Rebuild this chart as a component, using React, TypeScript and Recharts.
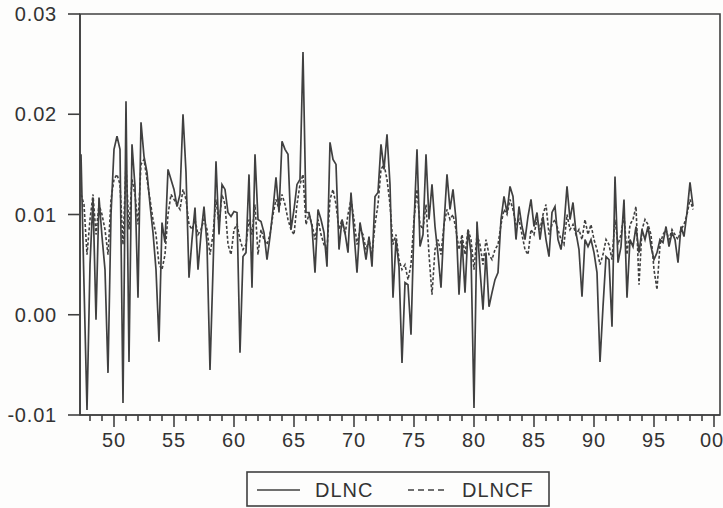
import React from "react";
import { LineChart, Line, XAxis, YAxis, ReferenceArea } from "recharts";

// quarterly, 1947Q2 .. 1998Q2
const START_YEAR = 47.25;

const DLNC = [
  0.016, 0.003, -0.0095, 0.005, 0.0117, -0.0005, 0.0117, 0.0078, 0.0045, -0.0058,
  0.01, 0.0165, 0.0178, 0.0165, -0.0088, 0.0213, -0.0047, 0.017, 0.0128, 0.0017,
  0.0192, 0.0158, 0.0142, 0.011, 0.0082, 0.0045, -0.0027, 0.0092, 0.0072, 0.0145,
  0.0135, 0.0125, 0.0108, 0.012, 0.02, 0.0142, 0.0037, 0.0075, 0.0107, 0.0045,
  0.008, 0.0108, 0.007, -0.0055, 0.0045, 0.0153, 0.008, 0.013, 0.0125, 0.0102,
  0.0098, 0.0103, 0.0102, -0.0038, 0.0058, 0.0062, 0.014, 0.0027, 0.016, 0.0095,
  0.0093, 0.0082, 0.0055, 0.0078, 0.0105, 0.0137, 0.0102, 0.0173, 0.0165, 0.016,
  0.0085, 0.0105, 0.013, 0.0135, 0.0262, 0.0102, 0.0102, 0.0088, 0.0042, 0.0105,
  0.0095, 0.0082, 0.0048, 0.0172, 0.0155, 0.015, 0.0065, 0.0095, 0.0082, 0.0062,
  0.0122, 0.0082, 0.0042, 0.0092, 0.0075, 0.0055, 0.0078, 0.0048, 0.0118, 0.0122,
  0.017, 0.0145, 0.018, 0.013, 0.0017, 0.0075, 0.0048, -0.0048, 0.0032, 0.003,
  -0.002, 0.009, 0.0165, 0.0068, 0.008, 0.016, 0.0095, 0.013, 0.0088, 0.006,
  0.0027, 0.009, 0.014, 0.0105, 0.0125, 0.0095, 0.002, 0.0075, 0.0022, 0.0085,
  0.0062, -0.0093, 0.0093, 0.0045, 0.0005, 0.0062, 0.0008, 0.0022, 0.0035, 0.0042,
  0.0095, 0.0118, 0.0102, 0.0128, 0.0118, 0.0075, 0.0108, 0.0088, 0.0075, 0.0098,
  0.0115, 0.0088, 0.0102, 0.0075, 0.0098, 0.0075, 0.0058, 0.0102, 0.0108, 0.0075,
  0.0065, 0.0088, 0.0128, 0.0095, 0.0112, 0.0082, 0.0065, 0.0018, 0.0075, 0.0068,
  0.0075, 0.0062, 0.0042, -0.0047, 0.0008, 0.0058, 0.0055, -0.0012, 0.0138, 0.0052,
  0.0068, 0.0115, 0.0017, 0.0075, 0.0068, 0.0088, 0.0062, 0.0085, 0.0075, 0.0088,
  0.0068, 0.0055, 0.0062, 0.0075, 0.0072, 0.0088, 0.0068, 0.0082, 0.0075, 0.0052,
  0.0088, 0.0078, 0.0102, 0.0132, 0.0108,
];

const DLNCF = [
  0.012, 0.011, 0.006, 0.0095, 0.012, 0.008, 0.011, 0.01, 0.0085, 0.006,
  0.0115, 0.0135, 0.014, 0.013, 0.007, 0.015, 0.0085, 0.0135, 0.012, 0.009,
  0.015, 0.0155, 0.0135, 0.0115, 0.0095, 0.008, 0.005, 0.0045, 0.006, 0.01,
  0.012, 0.0115, 0.011, 0.0105, 0.0125, 0.0115, 0.009, 0.0085, 0.0095, 0.008,
  0.0085, 0.0095, 0.0085, 0.006, 0.008, 0.0115, 0.009, 0.012, 0.011, 0.007,
  0.006, 0.0085, 0.009, 0.0075, 0.0065, 0.007, 0.0095, 0.008, 0.011, 0.006,
  0.0085, 0.0075, 0.007, 0.008, 0.01, 0.0115, 0.0105, 0.012, 0.011, 0.0095,
  0.0085, 0.008, 0.011, 0.013, 0.014, 0.009, 0.01, 0.009, 0.0075, 0.0095,
  0.008, 0.007, 0.0065, 0.0115, 0.0125, 0.011, 0.0085, 0.0095, 0.008, 0.01,
  0.0115, 0.0095, 0.007, 0.0085, 0.008, 0.0065, 0.0075, 0.006, 0.009, 0.011,
  0.0145, 0.015, 0.0135, 0.011, 0.007, 0.008, 0.0055, 0.0045, 0.005, 0.0035,
  0.005, 0.0095, 0.0125, 0.009, 0.0085, 0.011, 0.006, 0.002, 0.0065, 0.0075,
  0.006, 0.009, 0.0105, 0.0095, 0.01, 0.0085, 0.0065, 0.008, 0.006, 0.0085,
  0.0075, 0.0045, 0.008, 0.007, 0.005, 0.0075, 0.006, 0.0055, 0.0065, 0.007,
  0.009, 0.0105, 0.01, 0.0115, 0.0105, 0.009, 0.0095, 0.008, 0.0065, 0.006,
  0.0085, 0.008, 0.0095, 0.0085, 0.01, 0.011, 0.008, 0.009, 0.0095, 0.0085,
  0.0075, 0.007, 0.01, 0.0085, 0.009, 0.008, 0.0085, 0.0075, 0.0095, 0.008,
  0.009, 0.0075, 0.0065, 0.005, 0.006, 0.0075, 0.007, 0.0055, 0.0095, 0.007,
  0.008, 0.01, 0.006, 0.009, 0.0095, 0.0108, 0.003, 0.0085, 0.0095, 0.009,
  0.008, 0.0045, 0.0025, 0.007, 0.008, 0.0085, 0.0075, 0.0085, 0.008, 0.0075,
  0.0085, 0.009, 0.01, 0.0115, 0.0105,
];

const Y_TICKS = [-0.01, 0.0, 0.01, 0.02, 0.03];
const YEAR_TICKS = [
  48, 49, 50, 51, 52, 53, 54, 55, 56, 57, 58, 59, 60, 61, 62, 63, 64, 65, 66, 67,
  68, 69, 70, 71, 72, 73, 74, 75, 76, 77, 78, 79, 80, 81, 82, 83, 84, 85, 86, 87,
  88, 89, 90, 91, 92, 93, 94, 95, 96, 97, 98, 99, 100,
];
const X_MIN = 47.1667;
const X_MAX = 100.5;

const data = DLNC.map((v, i) => ({ t: START_YEAR + i / 4, dlnc: v, dlncf: DLNCF[i] }));

const INK = "#404040";
const TEXT = "#333";
const FONT = "'Liberation Sans', Arial, Helvetica, sans-serif";

const YearTick = (props: any) => {
  const { x, y, payload } = props;
  const yr = payload.value as number;
  const major = yr % 5 === 0;
  const label = String(yr % 100).padStart(2, "0");
  return (
    <g>
      <path d={`M${x},${y}L${x},${y + (major ? 12 : 6)}`} stroke={INK} strokeWidth={1.6} fill="none" />
      {major && (
        <text x={yr === 100 ? x - 2 : x} y={y + 32} textAnchor="middle" fill={TEXT} fontSize={20} letterSpacing={0.8} fontFamily={FONT}>
          {label}
        </text>
      )}
    </g>
  );
};

const ValueTick = (props: any) => {
  const { x, y, payload } = props;
  return (
    <g>
      <path d={`M${x + 11},${y}L${x + 23},${y}`} stroke={INK} strokeWidth={1.6} fill="none" />
      <text x={x} y={y} dy="0.36em" textAnchor="end" fill={TEXT} fontSize={20} letterSpacing={0.8} fontFamily={FONT}>
        {(payload.value as number).toFixed(2)}
      </text>
    </g>
  );
};

export default function App() {
  return (
    <div style={{ position: "absolute", left: 0, top: 0, width: 723, height: 508, background: "#fdfdfc" }}>
      <LineChart width={723} height={508} data={data} margin={{ top: 14, right: 3, bottom: 0, left: 0 }}>
        <XAxis
          dataKey="t"
          type="number"
          domain={[X_MIN, X_MAX]}
          ticks={YEAR_TICKS}
          interval={0}
          height={93}
          tickSize={0}
          tickMargin={0}
          tickLine={false}
          axisLine={{ stroke: INK, strokeWidth: 1.6 }}
          tick={<YearTick />}
        />
        <YAxis
          domain={[-0.01, 0.03]}
          ticks={Y_TICKS}
          width={80}
          tickSize={0}
          tickMargin={23}
          tickLine={false}
          axisLine={{ stroke: INK, strokeWidth: 1.6 }}
          tick={<ValueTick />}
        />
        <ReferenceArea x1={X_MIN} x2={X_MAX} y1={-0.01} y2={0.03} fill="none" stroke={INK} strokeWidth={1.6} ifOverflow="visible" />
        <Line dataKey="dlncf" type="linear" stroke={INK} strokeWidth={1.6} strokeDasharray="3 2" dot={false} isAnimationActive={false} />
        <Line dataKey="dlnc" type="linear" stroke={INK} strokeWidth={1.7} dot={false} isAnimationActive={false} />
      </LineChart>
      <svg width={305} height={37} style={{ position: "absolute", left: 246, top: 471 }}>
        <rect x={1} y={1} width={302} height={34} fill="none" stroke={INK} strokeWidth={1.6} />
        <line x1={11} x2={54} y1={19} y2={19} stroke={INK} strokeWidth={1.7} />
        <text x={69} y={26} fill={TEXT} fontSize={20} letterSpacing={1} fontFamily={FONT}>DLNC</text>
        <line x1={162} x2={201} y1={19} y2={19} stroke={INK} strokeWidth={1.6} strokeDasharray="6 4" />
        <text x={216} y={26} fill={TEXT} fontSize={20} letterSpacing={1} fontFamily={FONT}>DLNCF</text>
      </svg>
    </div>
  );
}
